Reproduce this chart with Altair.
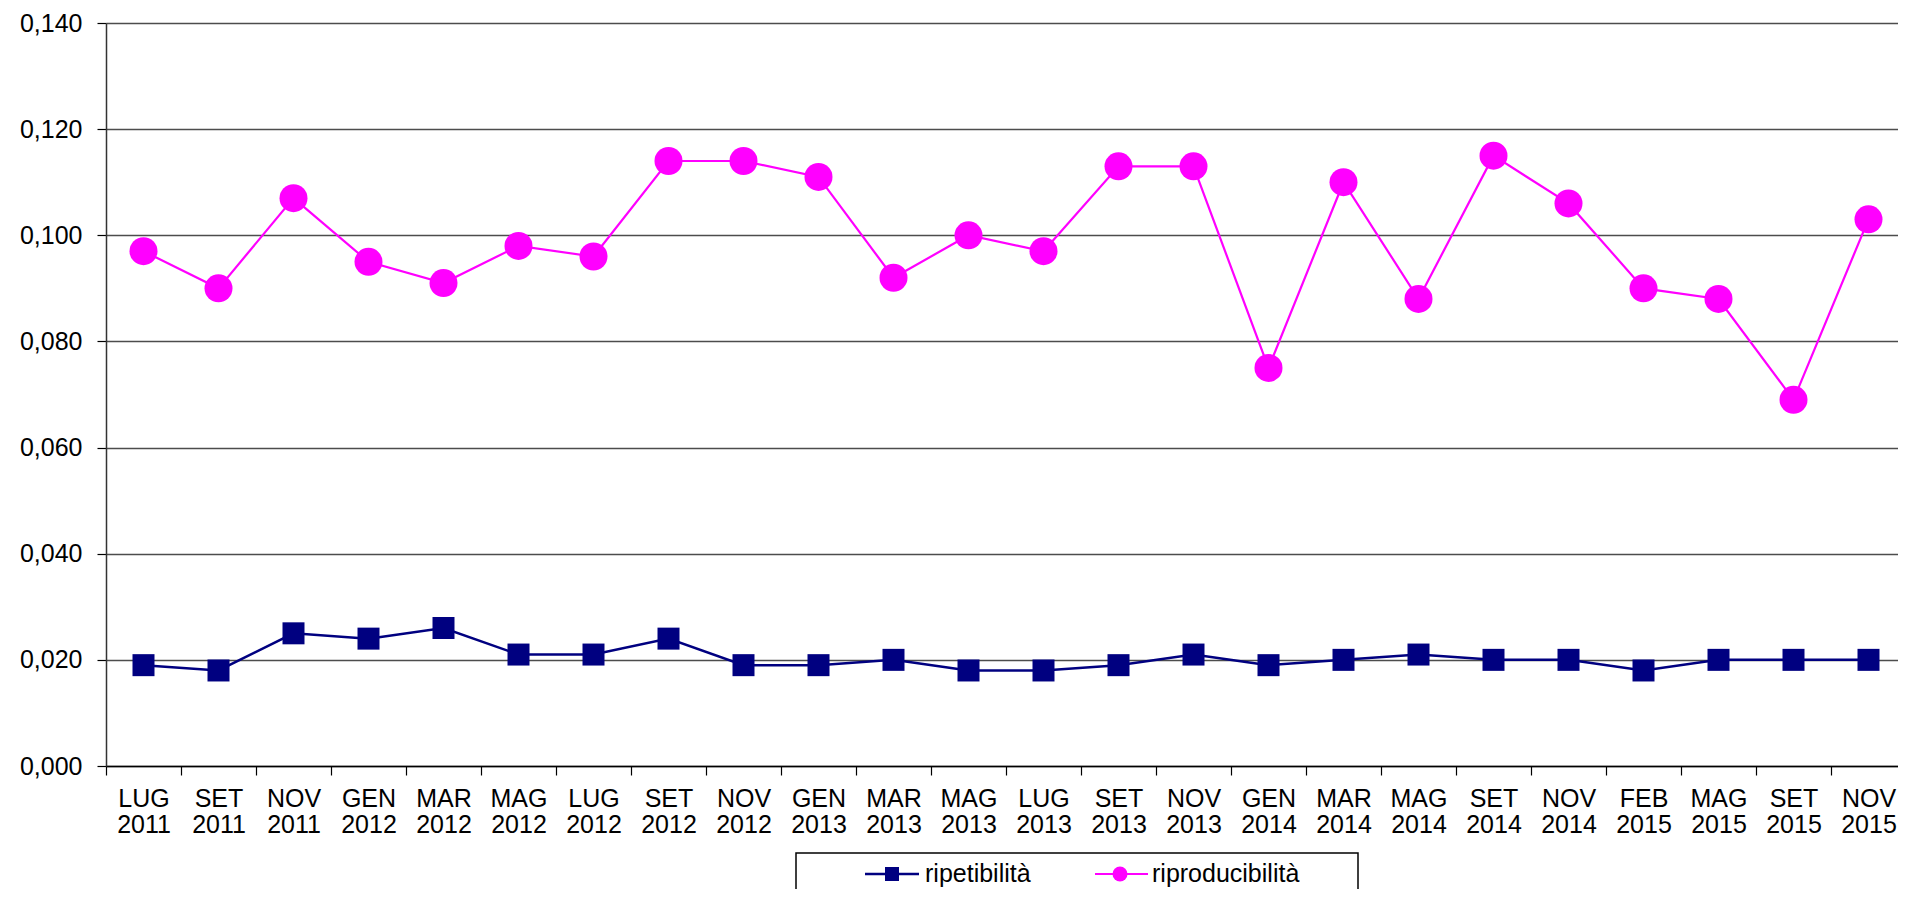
import altair as alt
import pandas as pd

categorie = ["LUG 2011", "SET 2011", "NOV 2011", "GEN 2012", "MAR 2012", "MAG 2012",
             "LUG 2012", "SET 2012", "NOV 2012", "GEN 2013", "MAR 2013", "MAG 2013",
             "LUG 2013", "SET 2013", "NOV 2013", "GEN 2014", "MAR 2014", "MAG 2014",
             "SET 2014", "NOV 2014", "FEB 2015", "MAG 2015", "SET 2015", "NOV 2015"]

ripetibilita = [0.019, 0.018, 0.025, 0.024, 0.026, 0.021, 0.021, 0.024, 0.019, 0.019,
                0.020, 0.018, 0.018, 0.019, 0.021, 0.019, 0.020, 0.021, 0.020, 0.020,
                0.018, 0.020, 0.020, 0.020]

riproducibilita = [0.097, 0.090, 0.107, 0.095, 0.091, 0.098, 0.096, 0.114, 0.114, 0.111,
                   0.092, 0.100, 0.097, 0.113, 0.113, 0.075, 0.110, 0.088, 0.115, 0.106,
                   0.090, 0.088, 0.069, 0.103]

serie_nomi = ["ripetibilità", "riproducibilità"]
colori = ["#000080", "#FF00FF"]
y_ticks = [0.0, 0.02, 0.04, 0.06, 0.08, 0.10, 0.12, 0.14]

rows = []
for i, c in enumerate(categorie):
    rows.append({"periodo": c, "idx": i, "serie": serie_nomi[0], "valore": ripetibilita[i]})
    rows.append({"periodo": c, "idx": i, "serie": serie_nomi[1], "valore": riproducibilita[i]})
df = pd.DataFrame(rows)

FONT = "Liberation Sans"
FS = 25

x_enc = alt.X(
    "periodo:N",
    sort=categorie,
    bandPosition=0.5,
    scale=alt.Scale(type="band", paddingInner=0, paddingOuter=0, range=[0, 1800]),
    axis=alt.Axis(
        title=None, labelAngle=0, labelExpr="split(datum.label, ' ')",
        labelLineHeight=26, labelFontSize=FS, labelFont=FONT, labelColor="black",
        labelPadding=11, tickSize=9, tickColor="black", tickWidth=1.2, tickBand="extent",
        domainColor="black", domainWidth=1.5, labelOverlap=False, labelBound=False,
        labelFlush=False, grid=False,
    ),
)

y_enc = alt.Y(
    "valore:Q",
    scale=alt.Scale(domain=[0, 0.14], nice=False, zero=True),
    axis=alt.Axis(
        title=None, values=y_ticks,
        labelExpr="replace(format(datum.value, '.3f'), '.', ',')",
        labelFontSize=FS, labelFont=FONT, labelColor="black", labelPadding=15,
        tickSize=9, tickColor="black", tickWidth=1.2,
        gridColor="#4d4d4d", gridWidth=1.3,
        domainColor="#333333", domainWidth=1.5,
    ),
)

color_enc = alt.Color("serie:N", scale=alt.Scale(domain=serie_nomi, range=colori), legend=None)

lines = alt.Chart(df).mark_line().encode(
    x=x_enc, y=y_enc, color=color_enc,
    strokeWidth=alt.StrokeWidth("serie:N", scale=alt.Scale(domain=serie_nomi, range=[2.5, 2.2]), legend=None),
    order=alt.Order("idx:Q"),
)

points = alt.Chart(df).mark_point(filled=True, opacity=1).encode(
    x=x_enc, y=y_enc, color=color_enc,
    shape=alt.Shape("serie:N", scale=alt.Scale(domain=serie_nomi, range=["square", "circle"]), legend=None),
    size=alt.Size("serie:N", scale=alt.Scale(domain=serie_nomi, range=[484, 784]), legend=None),
)

one = pd.DataFrame({"k": [0]})
LY = 851

legend_box = alt.Chart(one).mark_rect(fill="white", stroke="black", strokeWidth=1.5).encode(
    x=alt.value(690), x2=alt.value(1252), y=alt.value(830), y2=alt.value(910)
)
leg_line1 = alt.Chart(one).mark_rule(color=colori[0], strokeWidth=2.5).encode(
    x=alt.value(759), x2=alt.value(813), y=alt.value(LY)
)
leg_sym1 = alt.Chart(one).mark_point(shape="square", filled=True, opacity=1, size=196, color=colori[0]).encode(
    x=alt.value(786), y=alt.value(LY)
)
leg_txt1 = alt.Chart(one).mark_text(align="left", baseline="middle", fontSize=FS, font=FONT, color="black").encode(
    x=alt.value(819), y=alt.value(LY), text=alt.value(serie_nomi[0])
)
leg_line2 = alt.Chart(one).mark_rule(color=colori[1], strokeWidth=2.2).encode(
    x=alt.value(989), x2=alt.value(1042), y=alt.value(LY)
)
leg_sym2 = alt.Chart(one).mark_point(shape="circle", filled=True, opacity=1, size=225, color=colori[1]).encode(
    x=alt.value(1014), y=alt.value(LY)
)
leg_txt2 = alt.Chart(one).mark_text(align="left", baseline="middle", fontSize=FS, font=FONT, color="black").encode(
    x=alt.value(1046), y=alt.value(LY), text=alt.value(serie_nomi[1])
)

chart = alt.layer(
    lines, points, legend_box, leg_line1, leg_sym1, leg_txt1, leg_line2, leg_sym2, leg_txt2
).properties(
    width=1792, height=743,
    autosize=alt.AutoSizeParams(type="none"),
    padding={"left": 98, "top": 15, "right": 0, "bottom": 123},
    background="white",
).configure_view(stroke=None)

chart.save("out.html", embed_options={"renderer": "svg", "actions": False})
